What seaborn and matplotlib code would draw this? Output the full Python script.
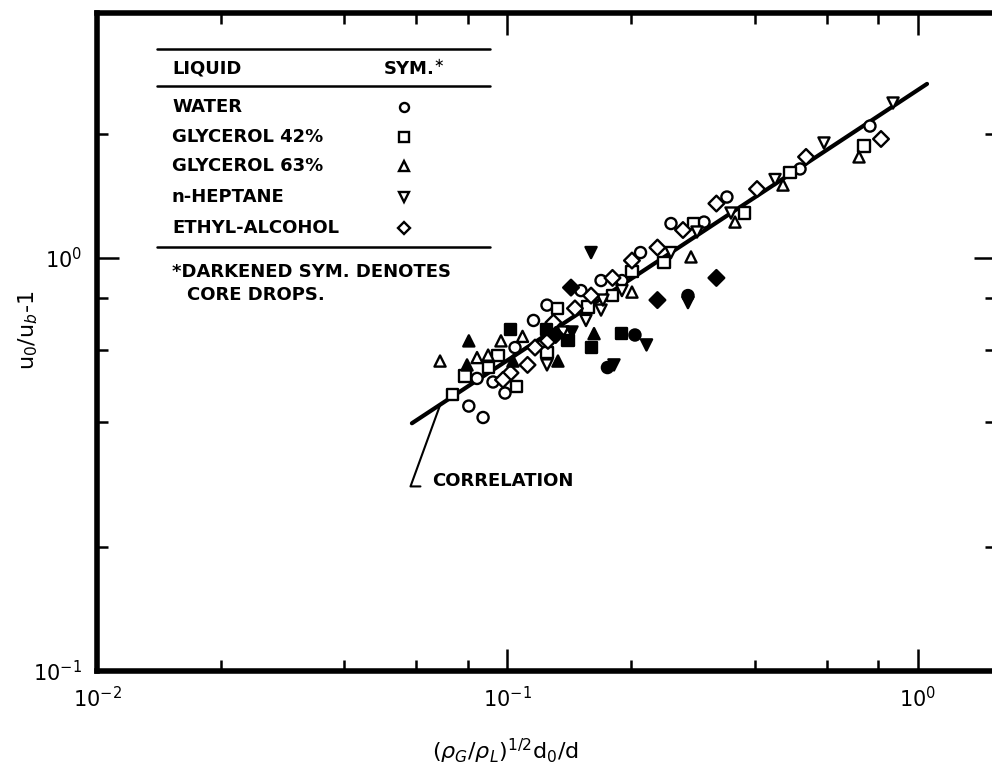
import matplotlib
matplotlib.use("Agg")
import matplotlib.pyplot as plt
import pandas as pd
import seaborn as sns
from matplotlib.ticker import LogLocator, NullFormatter

# liquids and their plotting symbols
liquids = ["WATER", "GLYCEROL 42%", "GLYCEROL 63%", "n-HEPTANE", "ETHYL-ALCOHOL"]
symbols = ["o", "s", "^", "v", "D"]

# core = 1 means darkened symbol (core drop)
water_x = [0.0805, 0.0872, 0.0843, 0.0922, 0.0986, 0.1043, 0.1157, 0.1248, 0.1510, 0.1690,
           0.1900, 0.2109, 0.2502, 0.3011, 0.3424, 0.5160, 0.7638, 0.2044, 0.2752, 0.1752]
water_y = [0.438, 0.411, 0.511, 0.501, 0.471, 0.607, 0.706, 0.769, 0.834, 0.882,
           0.882, 1.031, 1.212, 1.222, 1.405, 1.643, 2.087, 0.651, 0.811, 0.543]
water_core = [0, 0, 0, 0, 0, 0, 0, 0, 0, 0, 0, 0, 0, 0, 0, 0, 0, 1, 1, 1]

gly42_x = [0.0736, 0.0788, 0.0897, 0.0948, 0.1052, 0.1248, 0.1327, 0.1571, 0.1802, 0.2010,
           0.2406, 0.2838, 0.3778, 0.4878, 0.7387, 0.1017, 0.1245, 0.1404, 0.1598, 0.1900]
gly42_y = [0.467, 0.518, 0.543, 0.582, 0.489, 0.590, 0.755, 0.761, 0.811, 0.928,
           0.973, 1.212, 1.285, 1.607, 1.867, 0.671, 0.671, 0.630, 0.607, 0.656]
gly42_core = [0, 0, 0, 0, 0, 0, 0, 0, 0, 0, 0, 0, 0, 0, 0, 1, 1, 1, 1, 1]

gly63_x = [0.0685, 0.0843, 0.0897, 0.0964, 0.1088, 0.2010, 0.2799, 0.3583, 0.4690, 0.7184,
           0.0805, 0.0797, 0.1327, 0.1625, 0.1031]
gly63_y = [0.563, 0.574, 0.582, 0.630, 0.646, 0.827, 1.006, 1.222, 1.502, 1.757,
           0.630, 0.551, 0.563, 0.656, 0.563]
gly63_core = [0, 0, 0, 0, 0, 0, 0, 0, 0, 0, 1, 1, 1, 1, 1]

hept_x = [0.1248, 0.1553, 0.1690, 0.1708, 0.1900, 0.2502, 0.2895, 0.3503, 0.4485, 0.5902,
          0.8694, 0.1365, 0.1598, 0.1436, 0.2181, 0.2752, 0.1817]
hept_y = [0.551, 0.706, 0.748, 0.791, 0.834, 1.031, 1.156, 1.285, 1.549, 1.899,
          2.373, 0.662, 1.031, 0.662, 0.616, 0.780, 0.551]
hept_core = [0, 0, 0, 0, 0, 0, 0, 0, 0, 0, 0, 0, 1, 1, 1, 1, 1]

ethyl_x = [0.1017, 0.0975, 0.1119, 0.1255, 0.1294, 0.1460, 0.1598, 0.1802, 0.2010, 0.2319,
           0.2676, 0.3228, 0.4054, 0.5337, 0.8127, 0.1167, 0.1428, 0.2319, 0.3228, 0.1310]
ethyl_y = [0.527, 0.507, 0.551, 0.630, 0.698, 0.755, 0.811, 0.895, 0.986, 1.060,
           1.169, 1.355, 1.469, 1.757, 1.942, 0.607, 0.848, 0.791, 0.895, 0.651]
ethyl_core = [0, 0, 0, 0, 0, 0, 0, 0, 0, 0, 0, 0, 0, 0, 0, 0, 1, 1, 1, 1]

# correlation line end points
corr_x = [0.0585, 1.052]
corr_y = [0.398, 2.64]

frames = []
for name, xs, ys, cs in zip(liquids,
                            [water_x, gly42_x, gly63_x, hept_x, ethyl_x],
                            [water_y, gly42_y, gly63_y, hept_y, ethyl_y],
                            [water_core, gly42_core, gly63_core, hept_core, ethyl_core]):
    frames.append(pd.DataFrame({"x": xs, "y": ys, "core": cs, "liquid": name}))
df = pd.concat(frames, ignore_index=True)

sns.set_style("ticks")
plt.rcParams["font.family"] = ["DejaVu Sans"]
plt.rcParams.update({"text.color": "black", "axes.labelcolor": "black",
                     "xtick.color": "black", "ytick.color": "black"})

fig = plt.figure(figsize=(9.92, 7.79), dpi=100)
ax = fig.add_axes([97 / 992, 108 / 779, 899 / 992, 658 / 779])
ax.set_xscale("log")
ax.set_yscale("log")

sns.lineplot(x=corr_x, y=corr_y, color="black", linewidth=3, ax=ax, zorder=2)

marker_map = dict(zip(liquids, symbols))
sns.scatterplot(data=df[df.core == 0], x="x", y="y", style="liquid", style_order=liquids,
                markers=marker_map, facecolor="white", edgecolor="black", linewidth=1.7,
                s=64, legend=False, ax=ax, zorder=3)
sns.scatterplot(data=df[df.core == 1], x="x", y="y", style="liquid", style_order=liquids,
                markers=marker_map, facecolor="black", edgecolor="black", linewidth=1.7,
                s=64, legend=False, ax=ax, zorder=3)

ax.set_xlim(0.01, 1.549)
ax.set_ylim(0.1, 3.92)

for a in (ax.xaxis, ax.yaxis):
    a.set_major_locator(LogLocator(base=10))
    a.set_minor_locator(LogLocator(base=10, subs=(2, 4, 6, 8)))
    a.set_minor_formatter(NullFormatter())
ax.tick_params(which="both", direction="in", top=True, right=True, width=1.8,
               color="black", labelcolor="black")
ax.tick_params(which="major", length=16, labelsize=15, pad=11)
ax.tick_params(which="minor", length=8)
for sp in ax.spines.values():
    sp.set_linewidth(4)
    sp.set_color("black")

ax.set_xlabel(r"($\rho_G/\rho_L)^{1/2}$d$_0$/d", fontsize=16)
ax.set_ylabel(r"u$_0$/u$_b$-1", fontsize=16)
ax.xaxis.set_label_coords(0.454, -0.10)
ax.yaxis.set_label_coords(-0.063, 0.518)

# correlation label with leader
ax.annotate("CORRELATION", xy=(0.0685, 0.44), xytext=(0.0655, 0.2884),
            fontsize=13, fontweight="bold", ha="left", va="center",
            arrowprops=dict(arrowstyle="-", color="black", lw=1.5, relpos=(0, 0.2),
                            shrinkA=6, shrinkB=0,
                            connectionstyle="angle,angleA=180,angleB=70,rad=0"))

# symbol table in the upper left
tr = ax.transAxes
for yy in (0.9453, 0.8891, 0.6444):
    ax.plot([0.0667, 0.4372], [yy, yy], color="black", lw=1.8, transform=tr, clip_on=False)
ax.text(0.0834, 0.9149, "LIQUID", transform=tr, fontsize=13, fontweight="bold", va="center")
ax.text(0.318, 0.9149, r"SYM.$^{\ast}$", transform=tr, fontsize=13, fontweight="bold", va="center")
row_y = [0.8571, 0.8116, 0.7675, 0.7204, 0.6733]
for name, sym, yy in zip(liquids, symbols, row_y):
    ax.text(0.0834, yy, name, transform=tr, fontsize=13, fontweight="bold", va="center")
    ax.plot(0.3415, yy, marker=sym, ms=6.5, mfc="white", mec="black", mew=1.7, transform=tr)
ax.text(0.0834, 0.6064, "*DARKENED SYM. DENOTES", transform=tr, fontsize=13,
        fontweight="bold", va="center")
ax.text(0.1001, 0.5714, "CORE DROPS.", transform=tr, fontsize=13, fontweight="bold", va="center")

fig.savefig("out.png", dpi=100)
